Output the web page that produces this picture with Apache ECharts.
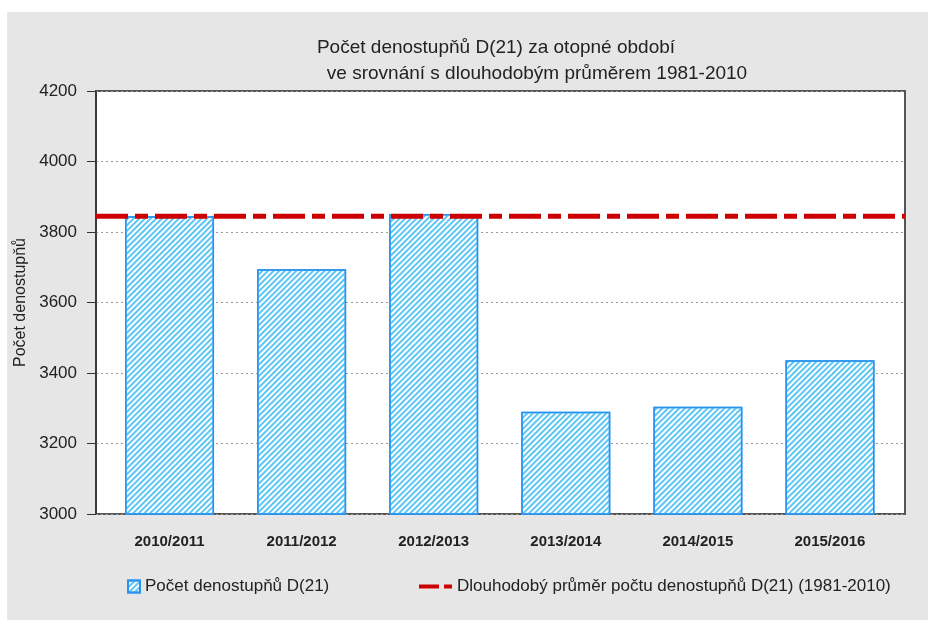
<!DOCTYPE html>
<html>
<head>
<meta charset="utf-8">
<title>Počet denostupňů D(21)</title>
<script src="https://cdn.jsdelivr.net/npm/echarts@6/dist/echarts.min.js"></script>
<style>
    html, body { margin: 0; padding: 0; background: #fff; }
    #chart { width: 928px; height: 620px; }
</style>
</head>
<body>
<div id="chart"></div>
<script>
// data
const seasons = ['2010/2011', '2011/2012', '2012/2013', '2013/2014', '2014/2015', '2015/2016']
const degreeDays = [3845, 3694, 3851, 3290, 3304, 3436]
const longTermMean = 3845
const yTicks = [3000, 3200, 3400, 3600, 3800, 4000, 4200]

const barName = 'Počet denostupňů D(21)'
const meanName = 'Dlouhodobý průměr počtu denostupňů D(21) (1981-2010)'
const font = 'Liberation Sans, Arial, sans-serif'

;(function () {
    const mychart = echarts.init(document.getElementById('chart'))

    let option = {
        animation: false,
        backgroundColor: '#fff',
        // grey panel behind everything
        graphic: [
            {
                type: 'rect',
                z: -100,
                silent: true,
                shape: { x: 7, y: 12, width: 921, height: 608 },
                style: { fill: '#e6e6e6' },
            },
        ],
        title: [
            {
                text: 'Počet denostupňů D(21) za otopné období',
                left: 491,
                top: 33,
                textAlign: 'center',
                textStyle: { fontFamily: font, fontSize: 19, fontWeight: 'normal', color: '#222' },
            },
            {
                text: 've srovnání s dlouhodobým průměrem 1981-2010',
                left: 532,
                top: 59,
                textAlign: 'center',
                textStyle: { fontFamily: font, fontSize: 19, fontWeight: 'normal', color: '#222' },
            },
        ],
        legend: [
            {
                left: 122,
                top: 573,
                itemWidth: 12,
                itemHeight: 12,
                icon: 'rect',
                data: [barName],
                textStyle: { fontFamily: font, fontSize: 17, color: '#222' },
            },
            {
                left: 414,
                top: 573,
                itemWidth: 33,
                itemHeight: 4,
                icon: 'path://M0,0H20V4H0Z M25,0H33V4H25Z',
                data: [meanName],
                textStyle: { fontFamily: font, fontSize: 17, color: '#222' },
            },
        ],
        // grid 0: frame, y axis, gridlines, mean line
        // grid 1: bars + category labels
        grid: [
            {
                left: 96,
                right: 23,
                top: 91,
                bottom: 106,
                show: true,
                backgroundColor: '#fff',
                borderColor: '#555',
                borderWidth: 2,
            },
            {
                left: 103.5,
                right: 32,
                top: 91,
                bottom: 106,
            },
        ],
        xAxis: [
            {
                gridIndex: 0,
                type: 'value',
                min: 0,
                max: 1,
                show: false,
            },
            {
                gridIndex: 1,
                type: 'category',
                data: seasons,
                axisLine: { show: false },
                axisTick: { show: false },
                axisLabel: {
                    margin: 20,
                    fontFamily: font,
                    fontSize: 15,
                    fontWeight: 'bold',
                    color: '#222',
                },
            },
        ],
        yAxis: [
            {
                gridIndex: 0,
                type: 'value',
                min: yTicks[0],
                max: yTicks[yTicks.length - 1],
                interval: 200,
                name: 'Počet denostupňů',
                nameLocation: 'middle',
                nameGap: 67,
                nameTextStyle: { fontFamily: font, fontSize: 16, color: '#222' },
                axisLine: { show: true, lineStyle: { color: '#333', width: 1.5 } },
                axisTick: { show: true, length: 9, lineStyle: { color: '#333' } },
                axisLabel: {
                    margin: 19,
                    fontFamily: font,
                    fontSize: 17,
                    color: '#222',
                    formatter: (v) => String(v),
                },
                splitLine: { lineStyle: { color: '#9a9a9a', width: 1, type: [2, 3] } },
            },
            {
                gridIndex: 1,
                type: 'value',
                min: yTicks[0],
                max: yTicks[yTicks.length - 1],
                show: false,
                splitLine: { show: false },
            },
        ],
        series: [
            {
                name: barName,
                type: 'bar',
                xAxisIndex: 1,
                yAxisIndex: 1,
                barWidth: 89,
                data: degreeDays,
                z: 2,
                itemStyle: {
                    color: '#fff',
                    borderColor: '#2a93f0',
                    borderWidth: 1.5,
                    decal: {
                        symbol: 'rect',
                        color: '#5cc6f5',
                        dashArrayX: [1, 0],
                        dashArrayY: [2, 2],
                        rotation: -Math.PI / 4,
                    },
                },
            },
            {
                name: meanName,
                type: 'line',
                xAxisIndex: 0,
                yAxisIndex: 0,
                data: [[0, longTermMean], [1, longTermMean]],
                symbol: 'none',
                z: 5,
                lineStyle: { color: '#cc0000', width: 5, type: [32, 7, 13, 7] },
                itemStyle: { color: '#cc0000' },
            },
        ],
    }

    mychart.setOption(option)
})()
</script>
</body>
</html>
